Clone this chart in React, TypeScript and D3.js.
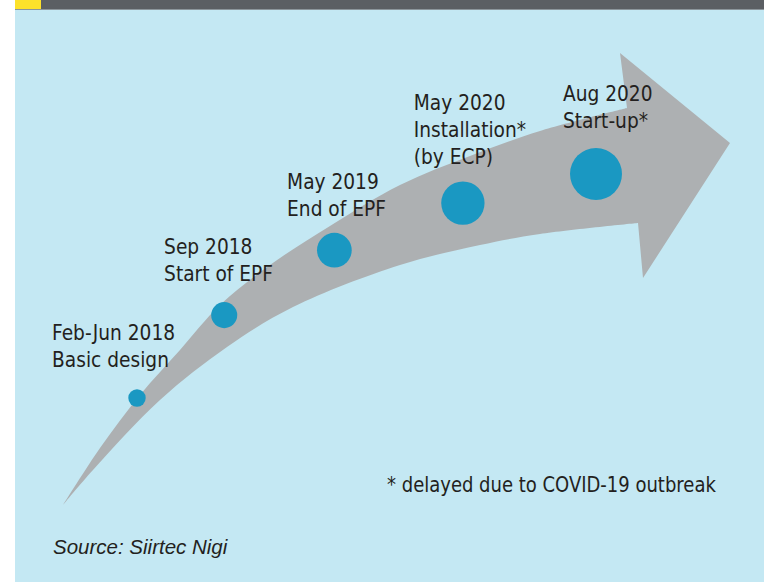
import React from "react";
import * as d3 from "d3";

const W = 772;
const H = 582;

// Milestones (schematic timeline)
const dates = ["Feb-Jun 2018", "Sep 2018", "May 2019", "May 2020", "Aug 2020"];
const descriptions: string[][] = [
  ["Basic design"],
  ["Start of EPF"],
  ["End of EPF"],
  ["Installation*", "(by ECP)"],
  ["Start-up*"],
];
const stage = [1, 2, 3, 4, 5]; // circle size grows with stage
const progress = [0, 19, 43, 71, 100]; // position along the arrow (x, %)
const elevation = [0, 37, 66, 87, 100]; // height along the arrow (y, %)
const labelProgress = [-18.5, 5.9, 32.7, 60.3, 92.8];
const labelElevation = [25.9, 64.3, 93.3, 128.6, 132.5];
const footnote = "* delayed due to COVID-19 outbreak";
const source = "Source: Siirtec Nigi";

export default function App() {
  const x = d3.scaleLinear().domain([0, 100]).range([137, 596]);
  const y = d3.scaleLinear().domain([0, 100]).range([398, 174]);
  const r = d3.scaleLinear().domain([1, 5]).range([8.7, 26]);

  const upper: [number, number][] = [
    [63, 505], [100, 448], [140, 395], [180, 350], [220, 305], [270, 265],
    [330, 226], [400, 185], [470, 156], [540, 131], [627, 108],
  ];
  const lower: [number, number][] = [
    [638, 223], [540, 234], [480, 245], [400, 265], [293, 307], [227, 347],
    [160, 400], [93, 470], [63, 505],
  ];
  const curve = d3.line().curve(d3.curveCatmullRom.alpha(0.5));
  const up = curve(upper) as string;
  const low = (curve(lower) as string).replace(/^M[^C]*/, "");
  const arrowPath =
    up + "L620,53L730,143L643,278L638,223" + low + "Z";

  const font = "'DejaVu Sans Condensed', 'DejaVu Sans', sans-serif";
  const lh = 27;
  const sx = 0.94;

  return (
    <svg
      width={W}
      height={H}
      style={{ position: "absolute", left: 0, top: 0, display: "block" }}
    >
      <rect x={0} y={0} width={W} height={H} fill="#ffffff" />
      <rect x={15} y={0} width={749} height={H} fill="#c4e8f3" />
      <rect x={15} y={0} width={749} height={9} fill="#5b5f63" />
      <rect x={15} y={9} width={749} height={1} fill="#8c969b" />
      <rect x={15} y={0} width={26} height={9} fill="#fde22a" />

      <path d={arrowPath} fill="#adb0b2" />

      {dates.map((d, i) => (
        <circle
          key={"c" + i}
          cx={x(progress[i])}
          cy={y(elevation[i])}
          r={r(stage[i])}
          fill="#1a98c2"
        />
      ))}

      {dates.map((d, i) => {
        const lines = [d, ...descriptions[i]];
        const lx = x(labelProgress[i]);
        const ly = y(labelElevation[i]);
        return (
          <text
            key={"t" + i}
            fontFamily={font}
            fontSize={22}
            fill="#231f20"
            transform={`translate(${lx},${ly}) scale(${sx},1)`}
          >
            {lines.map((l, j) => (
              <tspan key={j} x={0} y={j * lh}>
                {l}
              </tspan>
            ))}
          </text>
        );
      })}

      <text
        fontFamily={font}
        fontSize={22}
        fill="#231f20"
        transform="translate(387,492) scale(0.91,1)"
      >
        {footnote}
      </text>
      <text
        x={53}
        y={554}
        fontFamily="'Liberation Sans', Arial, sans-serif"
        fontStyle="italic"
        fontSize={20.5}
        fill="#231f20"
      >
        {source}
      </text>
    </svg>
  );
}
